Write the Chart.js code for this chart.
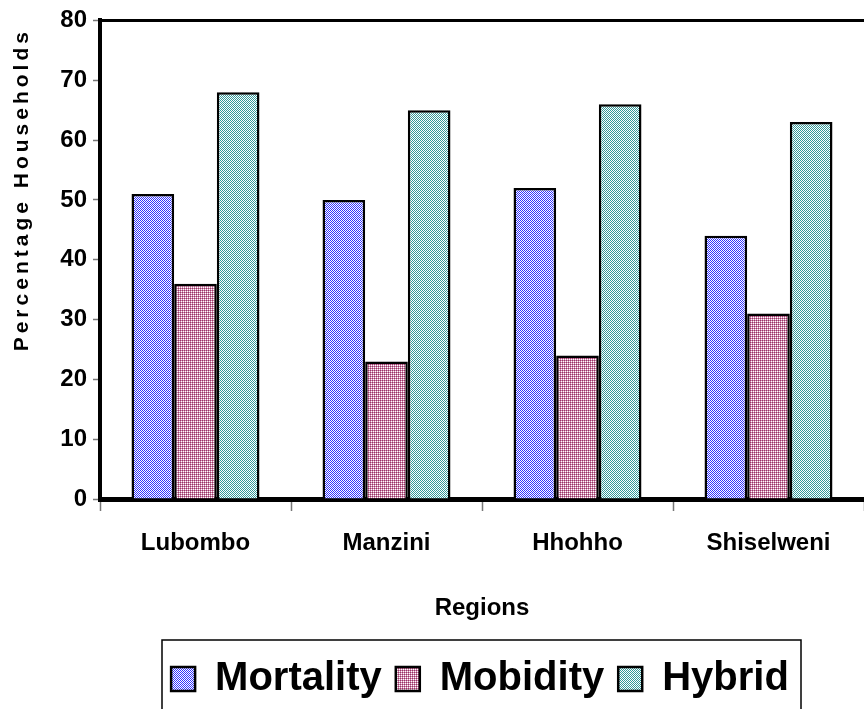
<!DOCTYPE html>
<html>
<head>
<meta charset="utf-8">
<script src="https://cdn.jsdelivr.net/npm/chart.js@4.4.1/dist/chart.umd.min.js"></script>
<style>
  html, body { margin: 0; padding: 0; background: #fff; }
  #wrap { width: 864px; height: 709px; }
</style>
</head>
<body>
<div id="wrap"><canvas id="chart" width="864" height="709"></canvas></div>
<script>
// data
const regions = ['Lubombo', 'Manzini', 'Hhohho', 'Shiselweni'];
const mortality = [51, 50, 52, 44];
const mobidity = [36, 23, 24, 31];
const hybrid = [68, 65, 66, 63];
const yTicks = [0, 10, 20, 30, 40, 50, 60, 70, 80];

const sans = '"Liberation Sans", Arial, sans-serif';

// little 2x2 fill patterns like the old office hatch fills
function checker(col) {
    var c = document.createElement('canvas');
    c.width = 2; c.height = 2;
    var x = c.getContext('2d');
    x.fillStyle = '#ffffff';
    x.fillRect(0, 0, 2, 2);
    x.fillStyle = col;
    x.fillRect(0, 0, 1, 1);
    x.fillRect(1, 1, 1, 1);
    return x.createPattern(c, 'repeat');
}

function gingham() {
    var c = document.createElement('canvas');
    c.width = 2; c.height = 2;
    var x = c.getContext('2d');
    x.fillStyle = '#ffffff';
    x.fillRect(0, 0, 2, 2);
    x.fillStyle = '#993366';
    x.fillRect(0, 0, 1, 1);
    x.fillStyle = '#cc88aa';
    x.fillRect(1, 0, 1, 1);
    x.fillRect(0, 1, 1, 1);
    return x.createPattern(c, 'repeat');
}

var blueFill = checker('#3333ff');
var pinkFill = gingham();
var tealFill = checker('#339999');

// top frame line, y-axis title (letter spaced) and the box round the legend
var extras = {
    id: 'extras',
    afterLayout(chart) {
        // legend sits a bit right of centre in the original
        chart.legend.left += 48;
        chart.legend.right += 48;
    },
    afterDraw(chart) {
        var ctx = chart.ctx;
        var a = chart.chartArea;
        ctx.save();
        ctx.strokeStyle = '#000';
        ctx.lineWidth = 3;
        ctx.beginPath();
        ctx.moveTo(a.left - 2, a.top);
        ctx.lineTo(chart.width, a.top);
        ctx.stroke();

        ctx.translate(22, (a.top + a.bottom) / 2 - 70);
        ctx.rotate(-Math.PI / 2);
        ctx.fillStyle = '#000';
        ctx.font = 'bold 21px ' + sans;
        ctx.letterSpacing = '4px';
        ctx.textAlign = 'center';
        ctx.textBaseline = 'middle';
        ctx.fillText('Percentage Households', 0, 0);
        ctx.restore();

        ctx.save();
        ctx.strokeStyle = '#000';
        ctx.lineWidth = 1.5;
        ctx.strokeRect(162, 640, 639, 80);
        ctx.restore();
    }
};

new Chart(document.getElementById('chart'), {
    type: 'bar',
    data: {
        labels: regions,
        datasets: [
            { label: 'Mortality', data: mortality, backgroundColor: blueFill, borderColor: '#000', borderWidth: 2.5 },
            { label: 'Mobidity', data: mobidity, backgroundColor: pinkFill, borderColor: '#000', borderWidth: 2.5 },
            { label: 'Hybrid', data: hybrid, backgroundColor: tealFill, borderColor: '#000', borderWidth: 2.5 }
        ]
    },
    options: {
        responsive: false,
        animation: false,
        devicePixelRatio: 1,
        layout: { padding: { top: 20, right: 0, left: 0, bottom: 0 } },
        datasets: { bar: { categoryPercentage: 0.67, barPercentage: 1 } },
        plugins: {
            tooltip: { enabled: false },
            legend: {
                position: 'bottom',
                labels: {
                    color: '#000',
                    font: { family: sans, size: 40, weight: 'bold' },
                    boxWidth: 24,
                    boxHeight: 24,
                    padding: 14
                }
            }
        },
        scales: {
            y: {
                min: 0,
                max: 80,
                afterBuildTicks(s) { s.ticks = yTicks.map(v => ({ value: v })); },
                afterFit(s) { s.width = 100; },
                ticks: {
                    color: '#000',
                    font: { family: sans, size: 24, weight: 'bold' },
                    padding: 6
                },
                grid: { drawOnChartArea: false, color: '#777', tickLength: 7, tickWidth: 1.5 },
                border: { color: '#000', width: 4 }
            },
            x: {
                afterFit(s) { s.height = 146; },
                ticks: {
                    color: '#000',
                    font: { family: sans, size: 24, weight: 'bold' },
                    padding: 18
                },
                grid: { offset: true, drawOnChartArea: false, color: '#777', tickLength: 12, tickWidth: 1.5 },
                border: { color: '#000', width: 5 },
                title: {
                    display: true,
                    text: 'Regions',
                    color: '#000',
                    font: { family: sans, size: 24, weight: 'bold' },
                    padding: { top: 20, bottom: 22 }
                }
            }
        }
    },
    plugins: [extras]
});
</script>
</body>
</html>
